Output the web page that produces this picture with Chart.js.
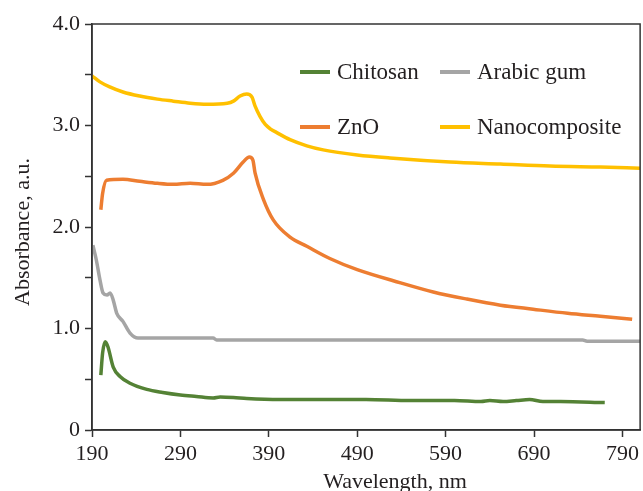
<!DOCTYPE html>
<html>
<head>
<meta charset="utf-8">
<script src="https://cdn.jsdelivr.net/npm/chart.js@4"></script>
<style>
  html, body { margin: 0; padding: 0; background: #fff; }
  canvas { display: block; }
</style>
</head>
<body>
<canvas id="chart" width="643" height="491"></canvas>
<script>
// axis ticks
const xTicks = [190, 290, 390, 490, 590, 690, 790];
const yTicks = [0, 0.5, 1, 1.5, 2, 2.5, 3, 3.5, 4];

// series (wavelength nm / absorbance)
const chitosanNm  = [200, 202, 205, 208, 214, 222, 233, 252, 270, 290, 308, 327, 335, 350, 365, 403, 450, 500, 550, 600, 630, 640, 655, 670, 685, 700, 720, 770];
const chitosanAbs = [0.54, 0.76, 0.87, 0.82, 0.62, 0.525, 0.46, 0.40, 0.37, 0.345, 0.33, 0.315, 0.325, 0.32, 0.31, 0.30, 0.30, 0.30, 0.29, 0.29, 0.28, 0.29, 0.28, 0.29, 0.30, 0.28, 0.28, 0.27];

const gumNm  = [191, 195, 199, 202.5, 207, 210.5, 214, 218, 225, 233, 242, 327, 331, 745, 750, 810];
const gumAbs = [1.82, 1.67, 1.48, 1.35, 1.33, 1.35, 1.28, 1.15, 1.07, 0.955, 0.906, 0.906, 0.887, 0.887, 0.875, 0.875];

const znoNm  = [200, 202, 206.5, 225, 244, 264, 282, 301, 320, 338, 350, 361, 368, 372, 374.5, 384, 395, 414, 433, 459, 490, 539, 576, 614, 652, 689, 728, 765, 801];
const znoAbs = [2.17, 2.33, 2.46, 2.47, 2.45, 2.43, 2.42, 2.43, 2.42, 2.46, 2.53, 2.64, 2.69, 2.66, 2.53, 2.27, 2.07, 1.90, 1.81, 1.69, 1.58, 1.45, 1.36, 1.29, 1.23, 1.19, 1.15, 1.12, 1.09];

const nanoNm  = [190, 199, 210, 225, 244, 264, 282, 301, 320, 343, 350, 357.5, 365, 371, 374.5, 380, 386, 392, 399, 414, 433, 451.5, 490, 527, 595, 652, 708, 765, 810];
const nanoAbs = [3.49, 3.43, 3.38, 3.33, 3.29, 3.26, 3.24, 3.22, 3.21, 3.22, 3.24, 3.29, 3.31, 3.28, 3.19, 3.09, 3.01, 2.965, 2.93, 2.86, 2.80, 2.76, 2.71, 2.68, 2.64, 2.62, 2.60, 2.59, 2.58];

const seriesNames = ['Chitosan', 'Arabic gum', 'ZnO', 'Nanocomposite'];
const seriesColors = ['#548235', '#A5A5A5', '#ED7D31', '#FFC000'];

const FONT = '"Liberation Serif", "Times New Roman", serif';
const TEXT = '#231f20';
const AXIS = '#333333';

const toPoints = (xs, ys) => xs.map((x, i) => ({ x: x, y: ys[i] }));
const allSeries = [
    toPoints(chitosanNm, chitosanAbs),
    toPoints(gumNm, gumAbs),
    toPoints(znoNm, znoAbs),
    toPoints(nanoNm, nanoAbs),
];

// box around the plot, legend inside it and the two axis titles
const overlay = {
    id: 'overlay',
    afterDraw(chart) {
        const { ctx, chartArea: a } = chart;
        ctx.save();
        ctx.strokeStyle = AXIS;
        ctx.lineWidth = 1.5;
        ctx.strokeRect(a.left, a.top, a.right - a.left, a.bottom - a.top);

        const colX = [300, 440];
        const rowY = [72, 127];
        ctx.font = '23px ' + FONT;
        ctx.textBaseline = 'middle';
        ctx.textAlign = 'left';
        chart.data.datasets.forEach((ds, i) => {
            const x = colX[i % 2], y = rowY[Math.floor(i / 2)];
            ctx.strokeStyle = ds.borderColor;
            ctx.lineWidth = 4;
            ctx.beginPath();
            ctx.moveTo(x, y);
            ctx.lineTo(x + 30, y);
            ctx.stroke();
            ctx.fillStyle = TEXT;
            ctx.fillText(ds.label, x + 37, y + 1);
        });

        ctx.font = '22px ' + FONT;
        ctx.fillStyle = TEXT;
        ctx.textAlign = 'center';
        ctx.textBaseline = 'alphabetic';
        ctx.fillText('Wavelength, nm', 395, 488);

        ctx.translate(29, 232);
        ctx.rotate(-Math.PI / 2);
        ctx.fillText('Absorbance, a.u.', 0, 0);
        ctx.restore();
    }
};

new Chart(document.getElementById('chart'), {
    type: 'line',
    data: {
        datasets: allSeries.map((pts, i) => ({
            label: seriesNames[i],
            data: pts,
            borderColor: seriesColors[i],
            backgroundColor: seriesColors[i],
            borderWidth: 3.5,
            pointRadius: 0,
            cubicInterpolationMode: 'monotone',
            fill: false,
        })),
    },
    options: {
        responsive: false,
        animation: false,
        devicePixelRatio: 1,
        layout: { padding: { top: 24, right: 2, left: 0, bottom: 0 } },
        plugins: {
            legend: { display: false },
            tooltip: { enabled: false },
        },
        scales: {
            x: {
                type: 'linear',
                min: 190,
                max: 810,
                afterBuildTicks: (s) => { s.ticks = xTicks.map(v => ({ value: v })); },
                afterFit: (s) => { s.height = 61; },
                grid: { drawOnChartArea: false, tickLength: 7, tickColor: AXIS, tickWidth: 1.5 },
                border: { color: AXIS, width: 1.5 },
                ticks: { font: { family: FONT, size: 22 }, color: TEXT, padding: 4, maxRotation: 0, autoSkip: false },
            },
            y: {
                min: 0,
                max: 4,
                afterBuildTicks: (s) => { s.ticks = yTicks.map(v => ({ value: v })); },
                afterFit: (s) => { s.width = 92; },
                grid: { drawOnChartArea: false, tickLength: 7, tickColor: AXIS, tickWidth: 1.5 },
                border: { color: AXIS, width: 1.5 },
                ticks: {
                    font: { family: FONT, size: 22 },
                    color: TEXT,
                    padding: 5,
                    autoSkip: false,
                    callback: (v) => v === 0 ? '0' : (v % 1 === 0 ? v.toFixed(1) : ''),
                },
            },
        },
    },
    plugins: [overlay],
});
</script>
</body>
</html>
